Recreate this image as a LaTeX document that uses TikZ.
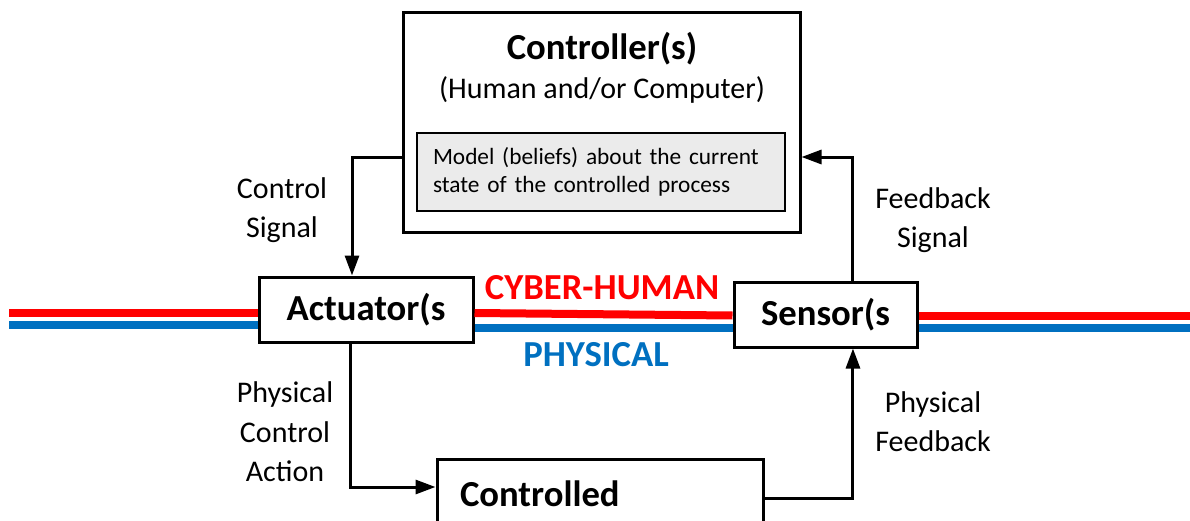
\documentclass[tikz,border=0pt]{standalone}
\usepackage{xcolor}
\usepackage{fontspec}
\setmainfont{Carlito}
\usepackage{tikz}
\usetikzlibrary{arrows,arrows.meta}

\definecolor{cyberred}{RGB}{255,0,0}
\definecolor{physblue}{RGB}{0,112,192}
\definecolor{modelgray}{RGB}{235,235,235}

\begin{document}
\begin{tikzpicture}[x=0.75pt,y=-0.75pt,>={Triangle[length=15pt,width=10.5pt]},
  block/.style={rectangle,draw,fill=white,line width=2.25pt,inner sep=0pt},
  title/.style={font=\fontsize{27.5}{32}\selectfont\bfseries},
  label text/.style={align=center,font=\fontsize{22.5}{29.5}\selectfont},
  model box/.style={rectangle,draw,fill=modelgray,line width=1pt,align=left,
    font=\fontsize{17.5}{21}\selectfont},
  flow/.style={->,line width=2.25pt},
  rail/.style={line width=6pt}]

  \useasboundingbox (0,0) rectangle (1190,521);
  \clip (0,0) rectangle (1190,521);

  % controller with its process model
  \node[block,minimum width=297.75pt,minimum height=165pt] (ctrl) at (601.5,122) {};
  \node[title] (ctrlName) at (602,49) {Controller(s)};
  \node[label text] (ctrlKind) at (602,90) {(Human and/or Computer)};
  \node[model box,minimum width=276pt,minimum height=58.5pt,
    text width=252pt,inner xsep=12pt] (model) at (601,172)
    {Model (beliefs) about the current\\state of the controlled process};

  % actuator, sensor and the process
  \node[block,title,minimum width=160.5pt,minimum height=48.75pt] (act) at (366,309.5) {Actuator(s};
  \node[block,title,minimum width=137.25pt,minimum height=48.75pt] (sens) at (825.5,314.5) {Sensor(s};
  \node[block,title,minimum width=244.5pt,minimum height=52.5pt,
    text width=210pt,inner xsep=17.25pt,align=left] (plant) at (600,494) {Controlled};

  % the two layers
  \coordinate (redL) at (9,313);
  \coordinate (blueL) at (9,325);
  \coordinate (redR) at (1190,315.5);
  \coordinate (blueR) at (1190,328);

  \draw[rail,cyberred] (redL) -- (redL -| act.west);
  \draw[rail,physblue] (blueL) -- (blueL -| act.west);
  \draw[rail,cyberred] (act.east |- redL) -- (sens.west |- redR);
  \draw[rail,physblue] (act.east |- blueR) -- (sens.west |- blueR);
  \draw[rail,cyberred] (sens.east |- redR) -- (redR);
  \draw[rail,physblue] (sens.east |- blueR) -- (blueR);

  \node[title,text=cyberred] (cyber) at (602,288) {CYBER-HUMAN};
  \node[title,text=physblue] (phys) at (596,355) {PHYSICAL};

  % control loop
  \draw[flow] ([yshift=-26.25pt]ctrl.west) -| ([xshift=-10.5pt]act.north);
  \draw[flow] ([xshift=20.6pt]sens.north) |- ([yshift=-26.25pt]ctrl.east);
  \draw[flow] ([xshift=-12pt]act.south) |- ([yshift=5.25pt]plant.west);
  \draw[flow] ([yshift=-3pt]plant.east) -| ([xshift=20.6pt]sens.south);

  \node[label text] (ctrlSig) at (282,210) {Control\\Signal};
  \node[label text] (fbSig) at (933,220) {Feedback\\Signal};
  \node[label text] (ctrlAct) at (285,432) {Physical\\Control\\Action};
  \node[label text] (physFb) at (933,422) {Physical\\Feedback};
\end{tikzpicture}
\end{document}
